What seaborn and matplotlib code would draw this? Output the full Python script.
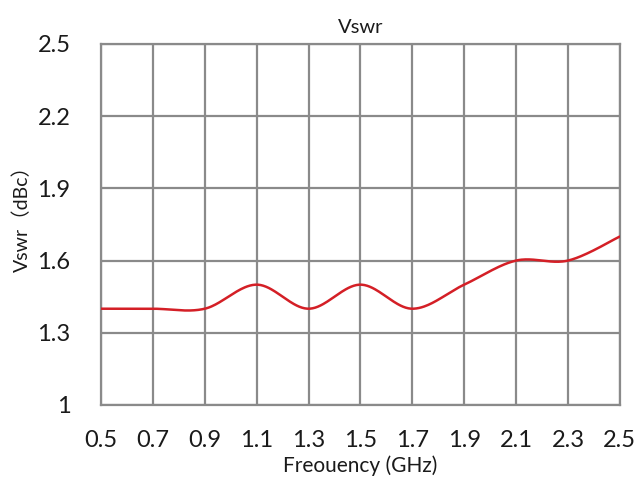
import numpy as np
import pandas as pd
import matplotlib
matplotlib.use("Agg")
import matplotlib.pyplot as plt
import seaborn as sns

# data
freq = [0.5, 0.7, 0.9, 1.1, 1.3, 1.5, 1.7, 1.9, 2.1, 2.3, 2.5]
vswr = [1.4, 1.4, 1.4, 1.5, 1.4, 1.5, 1.4, 1.5, 1.6, 1.6, 1.7]
xticks = [0.5, 0.7, 0.9, 1.1, 1.3, 1.5, 1.7, 1.9, 2.1, 2.3, 2.5]
yticks = [1.0, 1.3, 1.6, 1.9, 2.2, 2.5]
ytick_labels = ["1", "1.3", "1.6", "1.9", "2.2", "2.5"]


def smooth(x, y, n=40):
    # excel style smoothed line (bezier through every point)
    x = np.asarray(x, float)
    y = np.asarray(y, float)
    px = np.concatenate([[x[0]], x, [x[-1]]])
    py = np.concatenate([[y[0]], y, [y[-1]]])
    xs, ys = [], []
    t = np.linspace(0, 1, n)
    for i in range(1, len(px) - 2):
        p0 = np.array([px[i], py[i]])
        p3 = np.array([px[i + 1], py[i + 1]])
        p1 = p0 + (np.array([px[i + 1], py[i + 1]]) - np.array([px[i - 1], py[i - 1]])) / 6
        p2 = p3 - (np.array([px[i + 2], py[i + 2]]) - np.array([px[i], py[i]])) / 6
        b = ((1 - t) ** 3)[:, None] * p0 + (3 * (1 - t) ** 2 * t)[:, None] * p1 \
            + (3 * (1 - t) * t ** 2)[:, None] * p2 + (t ** 3)[:, None] * p3
        xs.extend(b[:, 0])
        ys.extend(b[:, 1])
    return xs, ys


sns.set_style("white")
plt.rcParams["font.family"] = ["Lato", "Noto Sans CJK SC", "DejaVu Sans"]

sx, sy = smooth(freq, vswr)
df = pd.DataFrame({"Frequency": sx, "Vswr": sy})

fig = plt.figure(figsize=(6.41, 4.83), dpi=100)
ax = fig.add_axes([0.1576, 0.1615, 0.8094, 0.7475])

sns.lineplot(data=df, x="Frequency", y="Vswr", sort=False, color="#d41f26",
             linewidth=1.8, ax=ax, zorder=3)

ax.set_xlim(0.5, 2.5)
ax.set_ylim(1.0, 2.5)
ax.set_xticks(xticks)
ax.set_xticklabels([f"{v:.1f}" for v in xticks])
ax.set_yticks(yticks)
ax.set_yticklabels(ytick_labels)
ax.grid(True, color="#8a8a8a", linewidth=1.6)
for s in ax.spines.values():
    s.set_color("#8a8a8a")
    s.set_linewidth(1.6)
ax.tick_params(axis="both", length=0, labelsize=17, colors="#1a1a1a")
ax.tick_params(axis="x", pad=18)
ax.tick_params(axis="y", pad=22)

ax.set_title("Vswr", fontsize=14.5, color="#1a1a1a", pad=8)
ax.set_xlabel("Freouency (GHz)", fontsize=15, color="#1a1a1a", labelpad=3)
ax.set_ylabel("Vswr（dBc）", fontsize=14, color="#1a1a1a")
ax.yaxis.set_label_coords(-0.135, 0.53)

fig.savefig("out.png", dpi=100)
